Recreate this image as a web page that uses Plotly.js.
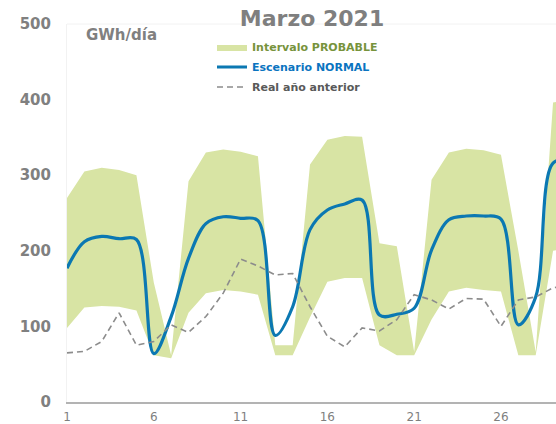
<!DOCTYPE html>
<html>
<head>
<meta charset="utf-8">
<script src="https://cdn.plot.ly/plotly-3.0.1.min.js"></script>
<style>html,body{margin:0;padding:0;background:#fff;}#chart{width:556px;height:424px;}</style>
</head>
<body>
<div id="chart"></div>
<script>
// Day of month (March 2021)
const days = [1,2,3,4,5,6,7,8,9,10,11,12,13,14,15,16,17,18,19,20,21,22,23,24,25,26,27,28,29,30];
// Intervalo PROBABLE: upper and lower bounds (GWh/día)
const upperBand = [270,305,310,307,300,158,62, 292,330,334,331,325,75,75, 314,347,352,351,210,206,66, 294,330,335,333,327,200,66, 396,400];
const lowerBand = [98,125,127,126,121,62,58, 118,144,148,146,142,62,62, 112,159,164,164,75,62,62, 109,146,151,148,146,62,62, 200,205];
// Escenario NORMAL
const normal = [177,212,219,216,215,64,113, 190,236,245,243,240,88,126, 228,254,262,267,115,116,124, 201,241,246,246,242,102,139, 316,320];
// Real año anterior
const prevYear = [65,67,80,118,75,80,102, 92,113,144,189,180,168,170, 126,87,73,98,94,109,142, 135,123,137,136,100,135,139, 151,155];

const xTicks = [1,6,11,16,21,26];
const yTicks = [0,100,200,300,400,500];

const FONT = 'DejaVu Sans, Verdana, sans-serif';

const traces = [
  {x: days, y: lowerBand, type: 'scatter', mode: 'lines', line: {width: 0, color: 'rgba(0,0,0,0)'},
   showlegend: false, hoverinfo: 'skip'},
  {x: days, y: upperBand, type: 'scatter', mode: 'lines', fill: 'tonexty', fillcolor: '#d8e4a4',
   line: {width: 0, color: '#d8e4a4'}, name: '<span style="color:#77933c">Intervalo PROBABLE</span>', legendgroup: 'a'},
  {x: days, y: normal, type: 'scatter', mode: 'lines', line: {color: '#0b78b2', width: 3.2, shape: 'spline', smoothing: 1},
   name: '<span style="color:#0a74c0">Escenario NORMAL</span>', legendgroup: 'b'},
  {x: days, y: prevYear, type: 'scatter', mode: 'lines', line: {color: '#8c8c8c', width: 1.6, dash: '6px,4px'},
   name: '<span style="color:#595959">Real año anterior</span>', legendgroup: 'c'}
];

const layout = {
  width: 556, height: 424,
  margin: {l: 67, r: 0, t: 24, b: 22, pad: 0},
  paper_bgcolor: '#ffffff', plot_bgcolor: '#ffffff',
  font: {family: FONT, color: '#7f7f7f'},
  title: {text: '<b>Marzo 2021</b>', font: {family: FONT, size: 22, color: '#7f7f7f'},
          x: 312/556, xref: 'container', xanchor: 'center', y: 1 - 18/424, yref: 'container', yanchor: 'middle'},
  xaxis: {range: [1, 29.17], tickvals: xTicks, ticktext: xTicks.map(String), showgrid: false, zeroline: false,
          showline: true, linecolor: '#b3b3b3', linewidth: 2, ticks: '', ticklabelstandoff: 3,
          tickfont: {family: FONT, size: 12, color: '#7f7f7f'}, fixedrange: true},
  yaxis: {range: [0, 500], tickvals: yTicks, ticktext: yTicks.map(String), showgrid: false, zeroline: false,
          showline: true, linecolor: '#f2f2f2', linewidth: 1, ticks: '', ticklabelstandoff: 12,
          tickfont: {family: FONT, size: 15, color: '#808080', weight: 'bold'}, fixedrange: true},
  showlegend: true,
  legend: {x: (212-67)/489, y: (402-33)/377.5, xanchor: 'left', yanchor: 'top', bgcolor: 'rgba(0,0,0,0)',
           font: {family: FONT, size: 11, weight: 'bold'}, traceorder: 'grouped', tracegroupgap: 1, itemwidth: 30},
  annotations: [
    {text: '<b>GWh/día</b>', xref: 'paper', yref: 'paper', x: (84-67)/489, y: (402-35)/377.5,
     xanchor: 'left', yanchor: 'middle', showarrow: false, font: {family: FONT, size: 15, color: '#808080'}}
  ],
  shapes: [
    {type: 'line', xref: 'paper', yref: 'paper', x0: 0, x1: 1, y0: 1, y1: 1, line: {color: '#f2f2f2', width: 1}, layer: 'below'}
  ]
};

Plotly.newPlot('chart', traces, layout, {displayModeBar: false, staticPlot: true});
</script>
</body>
</html>
